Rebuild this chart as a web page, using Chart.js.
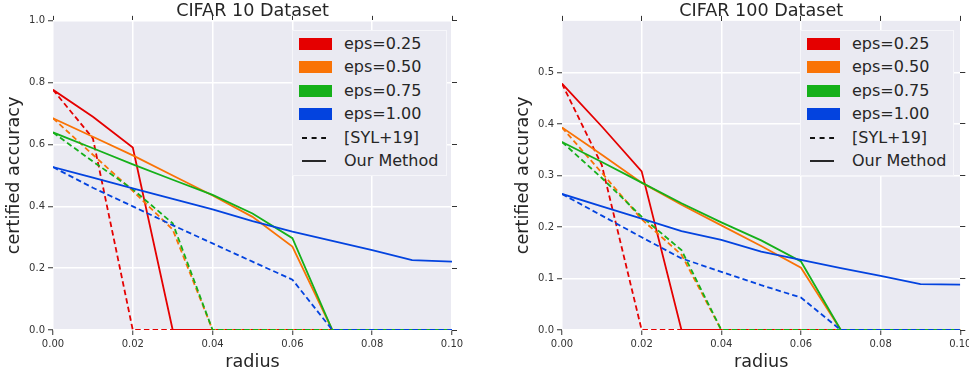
<!DOCTYPE html>
<html>
<head>
<meta charset="utf-8">
<script src="https://cdn.jsdelivr.net/npm/chart.js@4.4.0/dist/chart.umd.min.js"></script>
<style>
    body { margin: 0; background: #fff; font-family: 'DejaVu Sans', sans-serif; }
    #wrap { position: relative; width: 969px; height: 375px; overflow: hidden; }
    .panel { position: absolute; top: 0; }
    .legend {
        position: absolute; top: 30px; height: 144px;
        background: #EAEAF2; border: 1px solid #f6f6fa;
    }
    .legend .row { position: absolute; left: 0; height: 20px; }
    .legend .patch { position: absolute; left: 6px; top: 4px; width: 33px; height: 12px; }
    .legend svg { position: absolute; left: 9px; top: 0; }
    .legend .txt {
        position: absolute; left: 51px; top: 0; line-height: 20px;
        font-size: 16px; color: #262626; white-space: nowrap;
    }
</style>
</head>
<body>
<div id="wrap">
    <div class="panel" style="left:0px"><canvas id="chart-c10" width="475" height="375"></canvas></div>
    <div class="panel" style="left:509px"><canvas id="chart-c100" width="460" height="375"></canvas></div>
    <div class="legend" id="legend-c10" style="left:292px; width:153px"></div>
    <div class="legend" id="legend-c100" style="left:800px; width:152px"></div>
</div>
<script>
// ============================================
// DATA
// ============================================

const radius = [0, 0.01, 0.02, 0.03, 0.04, 0.05, 0.06, 0.07, 0.08, 0.09, 0.10];
const xTicks = [0, 0.02, 0.04, 0.06, 0.08, 0.10];
const epsLabels = ['eps=0.25', 'eps=0.50', 'eps=0.75', 'eps=1.00'];
const epsColors = ['#e50000', '#f97306', '#15b01a', '#0343df'];
const methodLabels = ['[SYL+19]', 'Our Method'];

// CIFAR 10
const c10Ticks = [0, 0.2, 0.4, 0.6, 0.8, 1.0];
const c10Ours025 = [0.777, 0.69, 0.59, 0, 0, 0, 0, 0, 0, 0, 0];
const c10Syl025  = [0.777, 0.62, 0, 0, 0, 0, 0, 0, 0, 0, 0];
const c10Ours050 = [0.685, 0.625, 0.565, 0.50, 0.435, 0.366, 0.27, 0, 0, 0, 0];
const c10Syl050  = [0.685, 0.567, 0.45, 0.325, 0, 0, 0, 0, 0, 0, 0];
const c10Ours075 = [0.639, 0.588, 0.536, 0.486, 0.437, 0.377, 0.297, 0, 0, 0, 0];
const c10Syl075  = [0.639, 0.545, 0.455, 0.345, 0, 0, 0, 0, 0, 0, 0];
const c10Ours100 = [0.527, 0.493, 0.458, 0.424, 0.39, 0.352, 0.318, 0.288, 0.258, 0.226, 0.221];
const c10Syl100  = [0.527, 0.46, 0.40, 0.339, 0.28, 0.221, 0.163, 0, 0, 0, 0];

// CIFAR 100
const c100Ticks = [0, 0.1, 0.2, 0.3, 0.4, 0.5];
const c100Ours025 = [0.478, 0.395, 0.308, 0, 0, 0, 0, 0, 0, 0, 0];
const c100Syl025  = [0.478, 0.32, 0, 0, 0, 0, 0, 0, 0, 0, 0];
const c100Ours050 = [0.393, 0.34, 0.286, 0.243, 0.203, 0.163, 0.121, 0, 0, 0, 0];
const c100Syl050  = [0.393, 0.305, 0.215, 0.146, 0, 0, 0, 0, 0, 0, 0];
const c100Ours075 = [0.365, 0.326, 0.286, 0.246, 0.209, 0.174, 0.133, 0, 0, 0, 0];
const c100Syl075  = [0.365, 0.295, 0.22, 0.155, 0, 0, 0, 0, 0, 0, 0];
const c100Ours100 = [0.264, 0.24, 0.216, 0.192, 0.175, 0.152, 0.136, 0.12, 0.105, 0.089, 0.088];
const c100Syl100  = [0.264, 0.222, 0.18, 0.139, 0.113, 0.087, 0.063, 0, 0, 0, 0];

// ============================================
// CHART CONFIGURATION
// ============================================

const FONT = "'DejaVu Sans', sans-serif";
const TEXT = '#262626';
const DASH = [5.5, 3.2];

Chart.defaults.font.family = FONT;

// axes background (seaborn darkgrid)
const bgPlugin = {
    id: 'axesBg',
    beforeDraw(chart) {
        const { ctx, chartArea: a } = chart;
        ctx.save();
        ctx.fillStyle = '#EAEAF2';
        ctx.fillRect(a.left, a.top, a.right - a.left, a.bottom - a.top);
        ctx.restore();
    }
};

function toPoints(vals) {
    return radius.map((r, i) => ({ x: r, y: vals[i] }));
}

function buildDatasets(ours, syl) {
    const sets = [];
    for (let i = 0; i < epsColors.length; i++) {
        sets.push({
            label: epsLabels[i] + ' ' + methodLabels[0],
            data: toPoints(syl[i]),
            borderColor: epsColors[i],
            borderDash: DASH,
            borderWidth: 1.8
        });
        sets.push({
            label: epsLabels[i] + ' ' + methodLabels[1],
            data: toPoints(ours[i]),
            borderColor: epsColors[i],
            borderWidth: 1.8
        });
    }
    // chart.js paints index 0 last -> reverse to keep later series on top
    return sets.reverse().map(d => ({
        ...d, pointRadius: 0, tension: 0, fill: false, clip: 0,
        xAxisID: 'x', yAxisID: 'y'
    }));
}

function fixedTicks(values) {
    return scale => { scale.ticks = values.map(v => ({ value: v })); };
}

function makeChart(id, title, ours, syl, yMax, yTicks, padRight) {
    const tickGrid = { color: '#ffffff', lineWidth: 1.5, tickColor: '#333', tickWidth: 1, tickLength: 5 };
    const markOnly = { drawOnChartArea: false, tickColor: '#333', tickWidth: 1, tickLength: 5 };
    new Chart(document.getElementById(id), {
        type: 'line',
        data: { datasets: buildDatasets(ours, syl) },
        plugins: [bgPlugin],
        options: {
            responsive: false,
            animation: false,
            layout: { padding: { left: 0, right: padRight, top: 0, bottom: 0 } },
            plugins: {
                legend: { display: false },
                tooltip: { enabled: false },
                title: {
                    display: true,
                    fullSize: false,
                    text: title,
                    color: TEXT,
                    font: { family: FONT, size: 17.6, weight: 'normal', lineHeight: 1.1 },
                    padding: { top: 1.5, bottom: 0 }
                }
            },
            scales: {
                x: {
                    type: 'linear', position: 'bottom', min: 0, max: 0.1,
                    afterBuildTicks: fixedTicks(xTicks),
                    afterFit: s => { s.height = 45; s.paddingLeft = 0; s.paddingRight = 0; },
                    ticks: { callback: v => v.toFixed(2), color: '#333', font: { size: 10 }, padding: 3, maxRotation: 0, autoSkip: false },
                    grid: tickGrid,
                    border: { display: false },
                    title: { display: true, text: 'radius', color: TEXT, font: { size: 17.6 }, padding: { top: 0, bottom: 2 } }
                },
                x2: {
                    axis: 'x', type: 'linear', position: 'top', min: 0, max: 0.1,
                    afterBuildTicks: fixedTicks(xTicks),
                    afterFit: s => { s.height = 0; s.paddingLeft = 0; s.paddingRight = 0; },
                    ticks: { display: false },
                    grid: markOnly,
                    border: { display: false }
                },
                y: {
                    type: 'linear', position: 'left', min: 0, max: yMax,
                    afterBuildTicks: fixedTicks(yTicks),
                    afterFit: s => { s.width = 53; },
                    ticks: { callback: v => v.toFixed(1), color: '#333', font: { size: 10 }, padding: 3 },
                    grid: tickGrid,
                    border: { display: false },
                    title: { display: true, text: 'certified accuracy', color: TEXT, font: { size: 17.6 }, padding: { top: 3.5, bottom: 0 } }
                },
                y2: {
                    axis: 'y', type: 'linear', position: 'right', min: 0, max: yMax,
                    afterBuildTicks: fixedTicks(yTicks),
                    afterFit: s => { s.width = 0; },
                    ticks: { display: false },
                    grid: markOnly,
                    border: { display: false }
                }
            }
        }
    });
}

// ============================================
// LEGEND (drawn inside the axes, like matplotlib)
// ============================================

function buildLegend(id) {
    const box = document.getElementById(id);
    const rowStep = 23.4;
    let html = '';
    epsLabels.forEach((lab, i) => {
        html += `<div class="row" style="top:${3 + i * rowStep}px">` +
            `<div class="patch" style="background:${epsColors[i]}"></div>` +
            `<div class="txt">${lab}</div></div>`;
    });
    methodLabels.forEach((lab, j) => {
        const dash = j === 0 ? 'stroke-dasharray="5 4.6"' : '';
        html += `<div class="row" style="top:${3 + (4 + j) * rowStep}px">` +
            `<svg width="26" height="20"><line x1="0" y1="10" x2="24" y2="10" stroke="#111" stroke-width="1.8" ${dash}/></svg>` +
            `<div class="txt">${lab}</div></div>`;
    });
    box.innerHTML = html;
}

makeChart('chart-c10', 'CIFAR 10 Dataset',
    [c10Ours025, c10Ours050, c10Ours075, c10Ours100],
    [c10Syl025, c10Syl050, c10Syl075, c10Syl100],
    1.0, c10Ticks, 23);

makeChart('chart-c100', 'CIFAR 100 Dataset',
    [c100Ours025, c100Ours050, c100Ours075, c100Ours100],
    [c100Syl025, c100Syl050, c100Syl075, c100Syl100],
    0.6, c100Ticks, 8.7);

buildLegend('legend-c10');
buildLegend('legend-c100');
</script>
</body>
</html>
